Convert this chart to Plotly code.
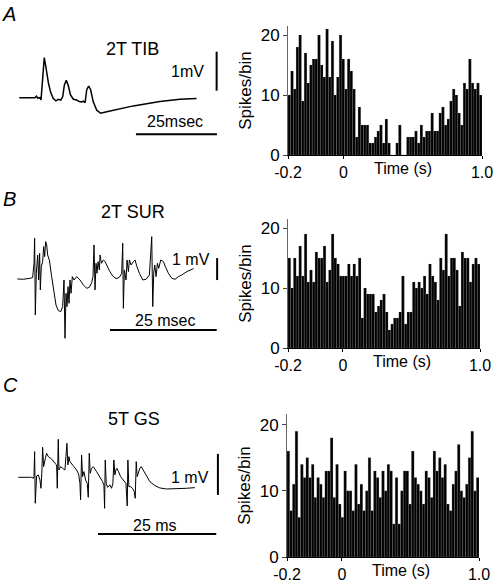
import numpy as np
import plotly.graph_objects as go

W, H = 496, 583
FONT = "Liberation Sans, Arial, sans-serif"

# ---------------- data ----------------
panel_letters = ["A", "B", "C"]
trace_titles = ["2T TIB", "2T SUR", "5T GS"]
mv_labels = ["1mV", "1 mV", "1 mV"]
ms_labels = ["25msec", "25 msec", "25 ms"]
scale_ms = 25.0
scale_mv = 1.0

# Trace A (time ms, voltage mV)
trace_a_t = [0, 4.8, 5.3, 5.7, 6.4, 6.7, 7.1, 7.7, 8.2, 9.0, 9.7, 10.5, 11.3, 12.0, 12.8, 13.4,
             13.9, 14.5, 15.1, 15.8, 16.7, 17.7, 18.5, 19.2, 19.8, 20.3, 20.8, 21.4, 22.0, 22.8,
             23.9, 25.1, 27.0, 35.2, 43.4, 49.6, 54.7]
trace_a_v = [0, 0, 0.04, -0.01, 0, -0.06, 0.37, 1.03, 0.79, 0.37, 0.13, -0.02, -0.08, -0.04, -0.06,
             0.03, 0.32, 0.45, 0.32, 0.07, -0.04, -0.06, -0.10, -0.11, -0.09, -0.13, 0.20, 0.30,
             0.21, -0.10, -0.32, -0.40, -0.36, -0.21, -0.10, -0.04, -0.02]

# Trace B (readings, converted below into ms / mV)
trace_b_raw = [(52, 297), (70, 298), (90, 295), (98, 293), (102, 250), (104, 175), (106, 405),
               (109, 280), (113, 225), (116, 300), (119, 220), (121, 330), (124, 260), (128, 245),
               (131, 200), (134, 230), (137, 185), (140, 195), (143, 225), (148, 240), (155, 290),
               (162, 340), (168, 375), (175, 392), (182, 395), (188, 380), (192, 300), (195, 475),
               (198, 340), (201, 380), (204, 320), (207, 370), (210, 300), (213, 340), (217, 290),
               (222, 300), (230, 290), (240, 300), (250, 315), (260, 325), (268, 322), (275, 308),
               (279, 290), (282, 195), (285, 330), (288, 250), (291, 280), (294, 245), (298, 270),
               (300, 225), (304, 250), (310, 240), (315, 245), (320, 255), (328, 272), (338, 288),
               (348, 296), (358, 292), (365, 280), (368, 190), (370, 385), (373, 270), (378, 300),
               (381, 240), (385, 275), (388, 240), (393, 255), (400, 245), (405, 240), (410, 258),
               (418, 280), (428, 300), (438, 298), (448, 285), (455, 170), (458, 380), (461, 280),
               (464, 255), (468, 290), (472, 250), (476, 265), (482, 240), (490, 245), (495, 258),
               (505, 280), (515, 295), (525, 298), (535, 290), (545, 285), (560, 275), (575, 268),
               (580, 266)]
trace_b_t = [round((x - 52) / 12.8, 2) for x, _ in trace_b_raw]
trace_b_v = [round((295 - y) / 66.0, 3) for _, y in trace_b_raw]

trace_c_raw = [(55, 322), (80, 322), (95, 322), (100, 325), (102, 320), (104, 245), (106, 400),
               (110, 318), (115, 315), (120, 330), (123, 355), (126, 300), (128, 232), (131, 290),
               (134, 270), (137, 262), (140, 250), (145, 260), (152, 265), (158, 270), (165, 280),
               (170, 285), (172, 355), (175, 208), (177, 300), (182, 290), (188, 295), (195, 300),
               (198, 260), (201, 220), (204, 285), (207, 260), (210, 275), (215, 280), (222, 290),
               (230, 300), (236, 312), (240, 340), (242, 390), (245, 255), (248, 320), (252, 305),
               (257, 330), (262, 340), (265, 382), (268, 250), (271, 310), (275, 295), (280, 290),
               (290, 305), (300, 320), (308, 335), (312, 345), (314, 415), (316, 270), (319, 340),
               (323, 352), (330, 345), (335, 355), (339, 340), (342, 270), (345, 315), (348, 300),
               (351, 295), (356, 305), (362, 320), (370, 330), (378, 340), (382, 408), (384, 270),
               (387, 350), (392, 350), (398, 355), (403, 365), (406, 385), (409, 275), (412, 320),
               (416, 305), (420, 295), (424, 290), (427, 295), (432, 305), (440, 320), (450, 335),
               (465, 347), (480, 354), (500, 357), (530, 357), (560, 355), (585, 353)]
trace_c_t = [round((x - 55) / 14.2, 2) for x, _ in trace_c_raw]
trace_c_v = [round((322 - y) / 123.0, 3) for _, y in trace_c_raw]

# Histograms (spikes per bin)
hist_a = [10, 14, 11, 18, 20, 9, 17, 12, 15, 16, 16, 20, 15, 13, 21, 13, 19, 10, 13, 20, 16, 11, 16,
          14, 11, 3, 8, 5, 5, 5, 2, 2, 3, 4, 5, 2, 6, 2, 0, 0, 2, 5, 0, 0, 3, 3, 3, 4, 2, 5, 3, 4, 4,
          7, 4, 4, 7, 8, 5, 6, 9, 11, 10, 7, 5, 12, 11, 16, 12, 11, 12, 10]
hist_b = [15, 10, 15, 12, 17, 12, 19, 11, 13, 11, 16, 15, 15, 17, 11, 13, 19, 15, 14, 12, 12, 12,
          14, 12, 14, 12, 15, 5, 10, 9, 9, 9, 6, 7, 8, 9, 6, 3, 4, 5, 5, 6, 12, 4, 6, 6, 11, 10, 11,
          10, 12, 9, 14, 12, 11, 8, 15, 13, 19, 12, 15, 15, 13, 7, 16, 15, 15, 11, 14, 15, 14]
hist_c = [16, 7, 11, 19, 6, 14, 12, 15, 12, 14, 9, 12, 11, 9, 13, 13, 18, 9, 14, 8, 6, 13, 10, 10,
          7, 14, 8, 11, 7, 10, 15, 7, 13, 12, 9, 13, 10, 14, 13, 5, 12, 5, 10, 13, 13, 8, 16, 12,
          11, 10, 8, 13, 12, 9, 16, 13, 15, 12, 14, 8, 7, 11, 13, 17, 10, 9, 11, 15, 19, 10, 12]
time_start, time_end = -0.4, 1.0
x_tickvals = [-0.4, 0, 1.0]
x_ticktext = ["-0.2", "0", "1.0"]
y_tickvals = [0, 10, 20]

# ---------------- layout helpers ----------------
def dx(p0, p1):
    return [p0 / W, p1 / W]

def dy(top, bottom):
    return [1 - bottom / H, 1 - top / H]

def ann(x, y, text, size, **kw):
    fig.add_annotation(x=x / W, y=1 - y / H, xref="paper", yref="paper", text=text,
                       showarrow=False, xanchor="center", yanchor="middle",
                       font=dict(size=size, color="black"), **kw)

fig = go.Figure()

# trace panel geometry: (x pixel of t=0, px per ms, y pixel of v=0, px per mV, top px, bottom px)
trace_geo = [
    (19.3, 3.24, 97.7, 39.0, 0, 180),
    (17.3, 4.27, 278.3, 22.0, 180, 370),
    (18.3, 4.73, 477.3, 41.0, 370, 583),
]
trace_data = [(trace_a_t, trace_a_v), (trace_b_t, trace_b_v), (trace_c_t, trace_c_v)]
line_w = [1.5, 1.0, 1.0]
hbar = [(36.0, -0.94), (21.7, -2.35), (16.85, -1.38)]
vbar = [(60.9, 0.18), (46.8, -0.08), (42.2, -0.43)]
title_pos = [(132, 49), (133, 212), (134, 419)]
mv_pos = [(187, 71), (191, 259), (190, 477)]
ms_pos = [(175, 122), (165, 320), (155, 525)]
letter_pos = [(9, 14), (9, 199), (10, 385)]

for i in range(3):
    x0, sx, y0, sy, top, bot = trace_geo[i]
    xa = f"xaxis{i + 1}" if i else "xaxis"
    ya = f"yaxis{i + 1}" if i else "yaxis"
    xr = f"x{i + 1}" if i else "x"
    yr = f"y{i + 1}" if i else "y"
    t, v = trace_data[i]
    fig.add_trace(go.Scatter(x=t, y=v, mode="lines", line=dict(color="black", width=line_w[i]),
                             xaxis=xr, yaxis=yr, showlegend=False, hoverinfo="skip"))
    fig.layout[xa] = dict(domain=dx(0, 230), range=[(0 - x0) / sx, (230 - x0) / sx],
                          visible=False, fixedrange=True, automargin=False, anchor=yr)
    fig.layout[ya] = dict(domain=dy(top, bot), range=[(y0 - bot) / sy, (y0 - top) / sy],
                          visible=False, fixedrange=True, anchor=xr, automargin=False)
    hx, hy = hbar[i]
    fig.add_shape(type="line", xref=xr, yref=yr, x0=hx, x1=hx + scale_ms, y0=hy, y1=hy,
                  line=dict(color="black", width=2))
    vx, vy = vbar[i]
    fig.add_shape(type="line", xref=xr, yref=yr, x0=vx, x1=vx, y0=vy, y1=vy + scale_mv,
                  line=dict(color="black", width=2))
    ann(*title_pos[i], trace_titles[i], 18)
    ann(*mv_pos[i], mv_labels[i], 16)
    ann(*ms_pos[i], ms_labels[i], 16)
    ann(*letter_pos[i], f"<i>{panel_letters[i]}</i>", 20)

# histogram geometry: left, right, top, bottom px, y max
hist_geo = [(288, 482, 26, 155, 21.5), (288, 480, 219, 348, 21.5), (287, 479, 414, 557, 21.6)]
hists = [hist_a, hist_b, hist_c]
for j in range(3):
    k = j + 4
    xr, yr = f"x{k}", f"y{k}"
    counts = hists[j]
    edges = np.linspace(time_start, time_end, len(counts) + 1)
    centers = (edges[:-1] + edges[1:]) / 2
    fig.add_trace(go.Bar(x=centers, y=counts, width=edges[1] - edges[0],
                         marker=dict(color="black", line=dict(color="#999999", width=0.2)),
                         xaxis=xr, yaxis=yr, showlegend=False, hoverinfo="skip"))
    l, r, top, bot, ymax = hist_geo[j]
    fig.layout[f"xaxis{k}"] = dict(domain=dx(l, r), range=[time_start, time_end], anchor=yr,
                                   tickvals=x_tickvals, ticktext=x_ticktext, ticks="outside",
                                   ticklen=3, tickcolor="black", showline=True, linecolor="black",
                                   linewidth=1, showgrid=False, zeroline=False, automargin=False,
                                   tickfont=dict(size=16, color="black"), fixedrange=True)
    fig.layout[f"yaxis{k}"] = dict(domain=dy(top, bot), range=[0, ymax], anchor=xr,
                                   tickvals=y_tickvals, ticks="outside", ticklen=4,
                                   tickcolor="#444", showline=True, linecolor="#666", linewidth=1,
                                   showgrid=False, zeroline=False, automargin=False,
                                   tickfont=dict(size=17, color="black"),
                                   title=dict(text="Spikes/bin", font=dict(size=17, color="black"),
                                              standoff=4), fixedrange=True)
    fig.add_annotation(x=0.43, y=0, xref=xr, yref=f"{yr} domain", text="Time (s)",
                       showarrow=False, xanchor="center", yanchor="top", yshift=-3,
                       font=dict(size=16, color="black"))

fig.update_layout(width=W, height=H, autosize=False,
                  margin=dict(l=0, r=0, t=0, b=0, pad=0, autoexpand=False),
                  paper_bgcolor="white", plot_bgcolor="white", bargap=0,
                  font=dict(family=FONT, color="black"))
fig.write_html("out.html", config={"displayModeBar": False, "staticPlot": True},
               post_script="document.body.style.margin='0px';document.body.style.overflow='hidden';")
